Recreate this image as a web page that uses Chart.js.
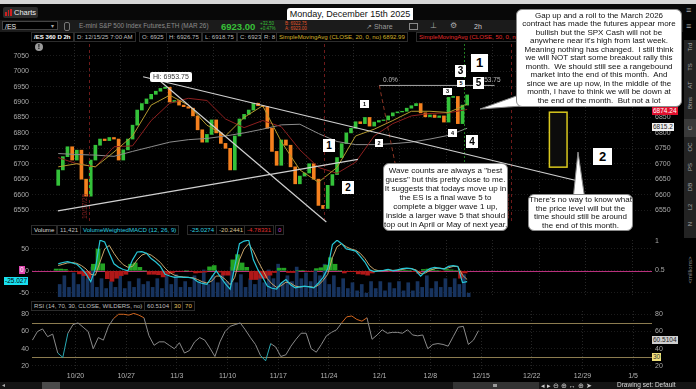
<!DOCTYPE html>
<html>
<head>
<meta charset="utf-8">
<title>/ES 2h</title>
<script src="https://cdn.jsdelivr.net/npm/chart.js@4.4.1/dist/chart.umd.min.js"></script>
<style>
  body { margin: 0; width: 696px; height: 389px; background: #000; position: relative; overflow: hidden;
         font-family: "Liberation Sans", Arial, sans-serif; }
  canvas { position: absolute; left: 0; }
  .a { position: absolute; white-space: nowrap; line-height: 1; }
  .box { position: absolute; background: #fff; border: 1px solid #8a8a8a; border-radius: 6px; color: #111;
         font-size: 8px; text-align: center; box-sizing: border-box; white-space: nowrap; }
  .w { position: absolute; background: #fff; color: #000; text-align: center; box-sizing: border-box; font-weight: bold; }
  .cell { position: absolute; height: 8px; font-size: 6.1px; line-height: 8px; padding: 0 2px; background: #000;
          border: 1px solid #2c2c2c; color: #bdbdbd; white-space: nowrap; }
  .tb { position: absolute; left: 680px; width: 20px; height: 8px; font-size: 6px; line-height: 8px; color: #a8a8a8;
        text-align: center; transform: rotate(-90deg); }
  .tag { position: absolute; font-size: 6.5px; line-height: 8px; height: 8px; padding: 0 1px; white-space: nowrap; }
</style>
</head>
<body>

<!-- window / toolbar chrome -->
<div class="a" style="left:0;top:0;width:696px;height:4px;background:#d6d6d6"></div>
<div class="a" style="left:0;top:4px;width:696px;height:16px;background:#080808"></div>
<div class="a" style="left:3px;top:7px;width:35px;height:11px;background:#2c2c2c;border-radius:2px"></div>
<div class="a" style="left:5px;top:12px;width:1.5px;height:4px;background:#d02020"></div>
<div class="a" style="left:7.5px;top:10px;width:1.5px;height:6px;background:#d02020"></div>
<div class="a" style="left:10px;top:8.5px;width:1.5px;height:7.5px;background:#d02020"></div>
<div class="a" style="left:14px;top:9px;font-size:7.5px;color:#eee">Charts</div>
<div class="a" style="left:287px;top:8px;width:126px;height:12px;background:#fff;border-radius:3px 0 0 0;font-size:9px;line-height:12px;text-align:center;color:#111">Monday, December 15th 2025</div>

<div class="a" style="left:0;top:20px;width:683px;height:12px;background:#1b1b1b"></div>
<div class="a" style="left:2px;top:21px;width:56px;height:9px;background:#000;border:1px solid #444;font-size:7px;line-height:9px;color:#eee;padding-left:2px;box-sizing:border-box">/ES</div>
<div class="a" style="left:51px;top:23px;font-size:6px;color:#aaa">&#9662;</div>
<div class="a" style="left:64px;top:22px;width:4px;height:7px;border:1px solid #777;border-radius:2px"></div>
<div class="a" style="left:79px;top:23px;font-size:6.4px;color:#8c8c8c">E-mini S&amp;P 500 Index Futures,ETH (MAR 26)</div>
<div class="a" style="left:221px;top:21.5px;font-size:9.5px;font-weight:bold;color:#38c038">6923.00</div>
<div class="a" style="left:260px;top:21px;font-size:4.5px;line-height:5px;color:#38c038">+32.50<br>+0.47%</div>
<div class="a" style="left:285px;top:21px;font-size:4.5px;line-height:5px;color:#e0552a">B: 6922.75<br>A: 6923.00</div>
<div class="a" style="left:366px;top:23px;font-size:7px;color:#9a9a9a">&#8599; Share</div>
<div class="a" style="left:409px;top:22.5px;width:9px;height:7px;border:1px solid #888;box-sizing:border-box"></div>
<div class="a" style="left:430px;top:22px;font-size:8px;color:#aaa">&#8869;</div>
<div class="a" style="left:450px;top:22px;font-size:8px;color:#aaa">&#9881;</div>
<div class="a" style="left:474px;top:23px;font-size:7px;color:#ccc">2h</div>
<div class="a" style="left:686px;top:6px;font-size:9px;color:#aaa">&#8801;</div>
<div class="a" style="left:686px;top:22px;font-size:9px;color:#aaa">&#8801;</div>

<!-- study strip -->
<div class="cell" style="left:31px;top:32px;color:#fff;font-weight:bold">/ES 360 D 2h</div>
<div class="cell" style="left:74px;top:32px">D: 12/15/25 7:00 AM</div>
<div class="cell" style="left:139px;top:32px">O: 6925</div>
<div class="cell" style="left:166px;top:32px">H: 6926.75</div>
<div class="cell" style="left:202px;top:32px">L: 6918.75</div>
<div class="cell" style="left:237px;top:32px">C: 6923</div>
<div class="cell" style="left:261px;top:32px">R: 8</div>
<div class="cell" style="left:276px;top:32px;color:#d4b22a">SimpleMovingAvg (CLOSE, 20, 0, no) 6892.99</div>
<div class="cell" style="left:416px;top:32px;color:#e02c2c">SimpleMovingAvg (CLOSE, 50, 0, no) 6874.24</div>

<!-- right side toolbar -->
<div class="a" style="left:684px;top:40px;width:12px;height:198px;background:#232323"></div>
<div class="a" style="left:684px;top:119px;width:12px;height:18px;background:#3a3a3a"></div>
<div class="tb" style="top:43px">Trd</div>
<div class="tb" style="top:63px">TS</div>
<div class="tb" style="top:81px">AT</div>
<div class="tb" style="top:99px">Btns</div>
<div class="tb" style="top:124px">C</div>
<div class="tb" style="top:143px">OC</div>
<div class="tb" style="top:163px">PS</div>
<div class="tb" style="top:183px">DB</div>
<div class="tb" style="top:203px">L2</div>
<div class="tb" style="top:220px">N</div>

<canvas id="price" width="683" height="184" style="top:40px"></canvas>
<canvas id="macd" width="683" height="63" style="top:237px"></canvas>
<canvas id="rsi" width="683" height="72" style="top:311px"></canvas>

<!-- price panel extras -->
<div class="a" style="left:35px;top:43px;width:8px;height:8px;border-radius:50%;background:#9a9a9a;color:#000;font-size:7px;line-height:8px;text-align:center;font-weight:bold">!</div>
<div class="a" style="left:150px;top:72px;height:10px;padding:0 3px;background:#fff;border-radius:2px;font-size:7px;line-height:10px;color:#333">Hi: 6953.75</div>
<div class="a" style="left:383px;top:77px;font-size:6.5px;color:#bdbdbd">0.0%</div>
<div class="a" style="left:477px;top:77px;font-size:6.5px;color:#bdbdbd">6953.75</div>
<div class="tag" style="left:652px;top:107px;background:#e0102e;color:#fff">6874.24</div>
<div class="tag" style="left:652px;top:123px;background:#f2f2f2;color:#222">6815.2</div>

<!-- wave labels -->
<div class="w" style="left:471px;top:54px;width:17px;height:18px;font-size:13px;line-height:18px">1</div>
<div class="w" style="left:455px;top:65px;width:11px;height:12px;font-size:10px;line-height:12px">3</div>
<div class="w" style="left:473px;top:77px;width:11px;height:12px;font-size:10px;line-height:12px">5</div>
<div class="w" style="left:466px;top:135px;width:12px;height:13px;font-size:10px;line-height:13px">4</div>
<div class="w" style="left:323px;top:139px;width:12px;height:13px;font-size:10px;line-height:13px">1</div>
<div class="w" style="left:342px;top:181px;width:12px;height:13px;font-size:10px;line-height:13px">2</div>
<div class="w" style="left:593px;top:148px;width:19px;height:17px;font-size:13px;line-height:17px">2</div>
<div class="w" style="left:457px;top:80px;width:8px;height:7px;font-size:5.5px;line-height:7px">5</div>
<div class="w" style="left:443px;top:88px;width:9px;height:7px;font-size:5.5px;line-height:7px">3</div>
<div class="w" style="left:360px;top:100px;width:9px;height:8px;font-size:5.5px;line-height:8px">1</div>
<div class="w" style="left:375px;top:139px;width:8px;height:8px;font-size:5.5px;line-height:8px">2</div>
<div class="w" style="left:448px;top:129px;width:9px;height:8px;font-size:5.5px;line-height:8px">4</div>

<!-- indicator headers -->
<div class="cell" style="left:31px;top:225px;color:#ddd">Volume</div>
<div class="cell" style="left:57px;top:225px">11,421</div>
<div class="cell" style="left:80px;top:225px;color:#2fd0e0">VolumeWeightedMACD (12, 26, 9)</div>
<div class="cell" style="left:187px;top:225px;color:#2fd0e0">-25.0274</div>
<div class="cell" style="left:216px;top:225px;color:#d8c090">-20.2441</div>
<div class="cell" style="left:244px;top:225px;color:#e03030">-4.78331</div>
<div class="cell" style="left:275px;top:225px;color:#d040c0">0</div>
<div class="tag" style="left:19px;top:266px;background:#e048b0;color:#fff">0</div>
<div class="tag" style="left:4px;top:277px;background:#18e0f0;color:#000">-25.027</div>
<div class="tb" style="left:676px;top:266px;width:28px;color:#888">&lt;millions&gt;</div>

<div class="cell" style="left:31px;top:301px">RSI (14, 70, 30, CLOSE, WILDERS, no)</div>
<div class="cell" style="left:144px;top:301px">60.5104</div>
<div class="cell" style="left:171px;top:301px;color:#e0c060">30</div>
<div class="cell" style="left:182px;top:301px;color:#e0c060">70</div>
<div class="tag" style="left:652px;top:336px;background:#cfcfcf;color:#222">60.5104</div>
<div class="tag" style="left:652px;top:353px;background:#f0e07a;color:#333">30</div>

<!-- bottom bar -->
<div class="a" style="left:0;top:382px;width:696px;height:7px;background:#141414"></div>
<div class="a" style="left:2px;top:382px;font-size:6px;color:#aaa">&#9666;</div>
<div class="a" style="left:42px;top:382px;width:18px;height:7px;background:#4a4a4a"></div>
<div class="a" style="left:453px;top:382px;width:86px;height:7px;background:#333"></div>
<div class="a" style="left:493px;top:384px;width:4px;height:3px;background:#999"></div>
<div class="a" style="left:541px;top:381.5px;font-size:7px;color:#ccc">&#9666; &#9656; &#8854; &#8853; &#8596; &#8853; &#10148;</div>
<div class="a" style="left:617px;top:382px;font-size:6.5px;color:#ddd">Drawing set: Default</div>

<!-- callouts -->
<svg class="a" style="left:0;top:0" width="696" height="389">
  <polygon points="522,94 480,109 536,105" fill="#fff" stroke="#888" stroke-width="1"/>
  <polygon points="573,200 578,152 585,200" fill="#fff" stroke="#888" stroke-width="1"/>
</svg>
<div class="box" style="left:516px;top:9px;width:166px;height:98px;padding-top:2px;line-height:8.45px">
Gap up and a roll to the March 2026<br>contract has made the futures appear more<br>bullish but the SPX Cash will not be<br>anywhere near it's high from last week.<br>Meaning nothing has changed.&nbsp; I still think<br>we will NOT start some breakout rally this<br>month.&nbsp; We should still see a rangebound<br>market into the end of this month.&nbsp; And<br>since we are up now, in the middle of the<br>month, I have to think we will be down at<br>the end of the month.&nbsp; But not a lot</div>
<div class="box" style="left:383px;top:163px;width:125px;height:68px;padding-top:2px;line-height:9px">
Wave counts are always a "best<br>guess" but this pretty close to me.<br>It suggests that todays move up in<br>the ES is a final wave 5 to<br>complete a bigger wave 1 up,<br>inside a larger wave 5 that should<br>top out in April or May of next year.</div>
<div class="box" style="left:528px;top:194px;width:105px;height:37px;padding-top:1px;line-height:8.5px">
There's no way to know what<br>the price level will but the<br>time should still be around<br>the end of this month.</div>

<script>
// x positions are trading days counted from Mon 10/20; one bar = half a day
const dateTicks = ['10/20', '10/27', '11/3', '11/10', '11/17', '11/24', '12/1', '12/8', '12/15', '12/22', '12/29', '1/5'];
const firstDay = -4.25;
const barStep = 0.5;
const openFirst = 6630;

const closes = [6680, 6723, 6755, 6712, 6744, 6650, 6595, 6712, 6760, 6780,
  6775, 6785, 6780, 6712, 6745, 6780, 6825, 6874, 6895, 6910,
  6925, 6935, 6944, 6948, 6900, 6905, 6890, 6885, 6880, 6855,
  6810, 6770, 6795, 6842, 6800, 6766, 6750, 6680, 6790, 6845,
  6860, 6874, 6896, 6888, 6885, 6815, 6740, 6695, 6777, 6760,
  6690, 6635, 6660, 6670, 6700, 6650, 6565, 6555, 6630, 6665,
  6720, 6765, 6800, 6815, 6836, 6830, 6850, 6822, 6835, 6840,
  6842, 6855, 6865, 6868, 6870, 6880, 6888, 6895, 6865, 6852,
  6858, 6850, 6855, 6835, 6915, 6918, 6830, 6890, 6923];

// moving averages, read every 4th bar
const maEvery = 4;
const sma20 = [6690, 6700, 6690, 6738, 6790, 6890, 6922, 6890, 6825, 6790, 6850, 6888, 6772, 6680, 6640, 6688, 6790, 6812, 6840, 6870, 6870, 6866, 6893];
const sma50 = [6720, 6700, 6690, 6755, 6758, 6840, 6896, 6912, 6905, 6845, 6817, 6840, 6820, 6745, 6688, 6669, 6705, 6790, 6830, 6855, 6863, 6865, 6876];
const sma200 = [6733, 6730, 6728, 6724, 6740, 6755, 6770, 6778, 6782, 6790, 6800, 6812, 6826, 6828, 6798, 6772, 6762, 6762, 6765, 6770, 6780, 6792, 6815];

const macd = [16, 19, 21, 18, 15, 5, -7, -25, 5, 70,
  66, 40, 16, 8, 3, 0, 25, 43, 44, 40,
  28, 20, 10, -8, -12, -15, -14, -15, -15, -17,
  -25, -29, -31, -15, 0, -15, -30, -42, 10, 62,
  68, 70, 25, 2, -15, -35, -40, -42, -28, -20,
  -32, -39, -37, -35, -37, -39, -28, -15, 5, 60,
  70, 62, 50, 48, 45, 33, 20, 2, -2, 0,
  1, 3, 0, 2, 5, 6, 5, 0, -12, -2,
  5, 8, 6, 4, 10, 12, 10, -27, -25];
const signal = [12, 15, 18, 19, 17, 12, 4, -8, -10, 20,
  50, 58, 40, 25, 14, 8, 10, 25, 36, 40,
  36, 28, 19, 6, -4, -10, -13, -14, -15, -16,
  -20, -25, -28, -24, -12, -12, -20, -32, -15, 25,
  50, 62, 45, 22, 2, -18, -30, -38, -34, -26,
  -28, -35, -37, -36, -36, -38, -33, -22, -8, 30,
  55, 62, 55, 50, 47, 40, 28, 12, 3, 0,
  0, 2, 1, 1, 3, 5, 5, 2, -6, -5,
  1, 5, 6, 5, 7, 10, 10, -10, -20];
const volume = [0.25, 0.4, 0.2, 0.45, 0.25, 0.5, 0.35, 0.55, 0.2, 0.35,
  0.18, 0.3, 0.2, 0.4, 0.18, 0.3, 0.2, 0.35, 0.25, 0.3,
  0.2, 0.35, 0.18, 0.4, 0.25, 0.42, 0.2, 0.3, 0.2, 0.4,
  0.3, 0.5, 0.25, 0.4, 0.28, 0.42, 0.3, 0.55, 0.28, 0.42,
  0.2, 0.35, 0.25, 0.4, 0.28, 0.5, 0.35, 0.6, 0.28, 0.4,
  0.3, 0.55, 0.35, 0.45, 0.3, 0.5, 0.4, 0.6, 0.25, 0.4,
  0.2, 0.35, 0.18, 0.28, 0.14, 0.25, 0.1, 0.3, 0.18, 0.3,
  0.14, 0.28, 0.18, 0.3, 0.14, 0.28, 0.14, 0.3, 0.2, 0.4,
  0.18, 0.3, 0.2, 0.35, 0.2, 0.35, 0.25, 0.42, 0.1];
const rsi = [50, 60, 63, 54, 57, 35, 30, 58, 68, 70,
  65, 60, 40, 53, 50, 66, 75, 80, 80, 79,
  81, 79, 76, 55, 44, 48, 48, 44, 40, 47,
  35, 38, 48, 53, 50, 41, 31, 48, 60, 66,
  68, 70, 62, 53, 45, 32, 26, 46, 42, 31,
  33, 43, 51, 58, 58, 40, 36, 45, 55, 59,
  62, 70, 77, 78, 74, 72, 76, 51, 56, 62,
  58, 59, 59, 58, 62, 56, 55, 56, 40, 45,
  46, 45, 43, 54, 65, 66, 45, 50, 61];

// drawings on the price panel, in (day, price)
const trendLines = [[4.88, 6982, 51.7, 6644], [6.36, 6977, 24.6, 6511], [-4.29, 6547, 28.0, 6714]];
const markers = [{ day: -0.9, text: '10/17/25' }, { day: 24.4, text: '' }, { day: 44.5, text: '12/19/25' }];
const nowDay = 39.4;
const fib = { from: 30.3, to: 42.7, level: 6953.75, endDay: 32.0, endPrice: 6701 };
const timeBox = { from: 48.6, to: 50.5, hi: 6867, lo: 6689 };

const xMin = -4.29, xMax = 56.86;
const dayOf = i => firstDay + i * barStep;
const pts = arr => arr.map((v, i) => ({ x: dayOf(i), y: v }));
const maPts = arr => arr.map((v, k) => ({ x: dayOf(k * maEvery), y: v }));

const tickFont = { family: 'Liberation Sans', size: 7 };
const fixW = w => s => { s.width = w; s.paddingTop = 0; s.paddingBottom = 0; };
const fixH = h => s => { s.height = h; s.paddingLeft = 0; s.paddingRight = 0; };

function xAxis(labels) {
  return {
    type: 'linear', min: xMin, max: xMax,
    afterBuildTicks: s => { s.ticks = dateTicks.map((t, k) => ({ value: k * 5 })); },
    ticks: { display: labels, color: '#b4b4b4', font: tickFont, padding: 3, maxRotation: 0, autoSkip: false,
      callback: v => dateTicks[Math.round(v / 5)] },
    grid: { color: '#262626', drawTicks: false },
    border: { display: false, dash: [1, 2] },
    afterFit: fixH(labels ? 14 : 0)
  };
}
function yAxis(position, min, max, step, width, grid) {
  return {
    position, min, max,
    ticks: { stepSize: step, includeBounds: false, color: '#a8a8a8', font: tickFont, padding: 3,
      callback: v => String(v) },
    grid: { display: grid, color: '#1c1c1c', drawTicks: false },
    border: { display: false, dash: [1, 2] },
    afterFit: fixW(width)
  };
}
const base = { responsive: false, animation: false, devicePixelRatio: 1, events: [],
  plugins: { legend: { display: false }, tooltip: { enabled: false } } };

// price panel
const bodies = closes.map((c, i) => ({ x: dayOf(i), y: [i ? closes[i - 1] : openFirst, c] }));
const bodyColors = bodies.map(b => b.y[1] >= b.y[0] ? '#34c23a' : '#f5801e');

const priceDrawings = {
  id: 'priceDrawings',
  afterDatasetsDraw(chart) {
    const { ctx, chartArea: a, scales: { x, y } } = chart;
    const P = (d, p) => [x.getPixelForValue(d), y.getPixelForValue(p)];
    ctx.save();
    ctx.beginPath();
    ctx.rect(a.left, a.top, a.right - a.left, a.bottom - a.top);
    ctx.clip();
    ctx.lineWidth = 1;
    ctx.setLineDash([3, 3]);
    ctx.strokeStyle = '#6e1a1a';
    markers.forEach(m => {
      const px = Math.round(x.getPixelForValue(m.day)) + 0.5;
      ctx.beginPath(); ctx.moveTo(px, a.top); ctx.lineTo(px, a.bottom); ctx.stroke();
    });
    ctx.strokeStyle = '#1f7a1f';
    ctx.setLineDash([2, 2]);
    const nx = Math.round(x.getPixelForValue(nowDay)) + 0.5;
    ctx.beginPath(); ctx.moveTo(nx, a.top); ctx.lineTo(nx, a.bottom); ctx.stroke();
    ctx.strokeStyle = '#8a3424';
    ctx.setLineDash([4, 3]);
    ctx.beginPath(); ctx.moveTo(...P(fib.from, fib.level)); ctx.lineTo(...P(fib.endDay, fib.endPrice)); ctx.stroke();
    ctx.setLineDash([]);
    ctx.strokeStyle = '#a8a8a8';
    ctx.beginPath(); ctx.moveTo(...P(fib.from, fib.level)); ctx.lineTo(...P(fib.to, fib.level)); ctx.stroke();
    ctx.strokeStyle = '#d0d0d0';
    ctx.lineWidth = 1.2;
    trendLines.forEach(t => {
      ctx.beginPath(); ctx.moveTo(...P(t[0], t[1])); ctx.lineTo(...P(t[2], t[3])); ctx.stroke();
    });
    const [bx1, by1] = P(timeBox.from, timeBox.hi);
    const [bx2, by2] = P(timeBox.to, timeBox.lo);
    ctx.fillStyle = '#0c0c0c';
    ctx.fillRect(bx1, by1, bx2 - bx1, by2 - by1);
    ctx.strokeStyle = '#d8c81e';
    ctx.lineWidth = 1.5;
    ctx.strokeRect(bx1, by1, bx2 - bx1, by2 - by1);
    ctx.fillStyle = '#8a2222';
    ctx.font = '6.5px "Liberation Sans"';
    ctx.textAlign = 'left';
    ctx.textBaseline = 'bottom';
    markers.forEach(m => {
      ctx.save();
      ctx.translate(x.getPixelForValue(m.day) - 1, a.bottom - 4);
      ctx.rotate(-Math.PI / 2);
      ctx.fillText(m.text, 0, 0);
      ctx.restore();
    });
    ctx.restore();
  }
};

new Chart(document.getElementById('price'), {
  type: 'bar',
  data: {
    datasets: [
      { type: 'line', data: maPts(sma20), borderColor: '#b39a2e', borderWidth: 1, pointRadius: 0, yAxisID: 'y' },
      { type: 'line', data: maPts(sma50), borderColor: '#8e1f1f', borderWidth: 1, pointRadius: 0, yAxisID: 'y' },
      { type: 'line', data: maPts(sma200), borderColor: '#8c8c8c', borderWidth: 1, pointRadius: 0, yAxisID: 'y' },
      { data: bodies, backgroundColor: bodyColors, barThickness: 3, yAxisID: 'y' }
    ]
  },
  options: Object.assign({}, base, {
    layout: { padding: { top: 4, bottom: 1 } },
    scales: {
      x: xAxis(false),
      y: yAxis('left', 6508, 7088, 50, 32, true),
      y2: yAxis('right', 6508, 7088, 50, 31, false)
    }
  }),
  plugins: [priceDrawings]
});

// volume + MACD panel
const hist = macd.map((m, i) => m - signal[i]);
const zeroLine = {
  id: 'zeroLine',
  beforeDatasetsDraw(chart) {
    const { ctx, chartArea: a, scales: { y } } = chart;
    const py = Math.round(y.getPixelForValue(0)) + 0.5;
    ctx.save();
    ctx.strokeStyle = '#b8307c';
    ctx.lineWidth = 1;
    ctx.beginPath(); ctx.moveTo(a.left, py); ctx.lineTo(a.right, py); ctx.stroke();
    ctx.restore();
  }
};
new Chart(document.getElementById('macd'), {
  type: 'bar',
  data: {
    datasets: [
      { type: 'line', data: pts(macd), borderColor: '#27c6d6', borderWidth: 1.2, pointRadius: 0, yAxisID: 'y' },
      { type: 'line', data: pts(signal), borderColor: '#c9a46a', borderWidth: 1, pointRadius: 0, yAxisID: 'y' },
      { data: pts(hist), backgroundColor: hist.map(h => h >= 0 ? '#24a324' : '#b01818'), barThickness: 4, yAxisID: 'y' },
      { data: pts(volume), backgroundColor: '#17335e', barThickness: 3, yAxisID: 'vol' }
    ]
  },
  options: Object.assign({}, base, {
    layout: { padding: { top: 3, bottom: 3 } },
    scales: {
      x: xAxis(false),
      y: yAxis('left', -60, 70.5, 50, 32, true),
      vol: yAxis('right', 0.034, 1.017, 0.5, 31, false)
    }
  }),
  plugins: [zeroLine]
});

// RSI panel
const rsiLevels = [70, 30];
const rsiLines = {
  id: 'rsiLines',
  beforeDatasetsDraw(chart) {
    const { ctx, chartArea: a, scales: { y } } = chart;
    ctx.save();
    ctx.strokeStyle = '#8c7c50';
    ctx.lineWidth = 1;
    rsiLevels.forEach(l => {
      const py = Math.round(y.getPixelForValue(l)) + 0.5;
      ctx.beginPath(); ctx.moveTo(a.left, py); ctx.lineTo(a.right, py); ctx.stroke();
    });
    ctx.restore();
  }
};
new Chart(document.getElementById('rsi'), {
  type: 'line',
  data: {
    datasets: [{
      data: pts(rsi), borderWidth: 1, pointRadius: 0, borderColor: '#8a8a8a',
      segment: {
        borderColor: c => (c.p0.parsed.y >= 70 && c.p1.parsed.y >= 70) ? '#d2661e'
          : (c.p0.parsed.y <= 30 || c.p1.parsed.y <= 30) ? '#28aab4' : '#8a8a8a'
      }
    }]
  },
  options: Object.assign({}, base, {
    layout: { padding: 0 },
    scales: {
      x: xAxis(true),
      y: yAxis('left', 16.5, 83.8, 20, 32, true),
      y2: yAxis('right', 16.5, 83.8, 20, 31, false)
    }
  }),
  plugins: [rsiLines]
});
</script>
</body>
</html>
